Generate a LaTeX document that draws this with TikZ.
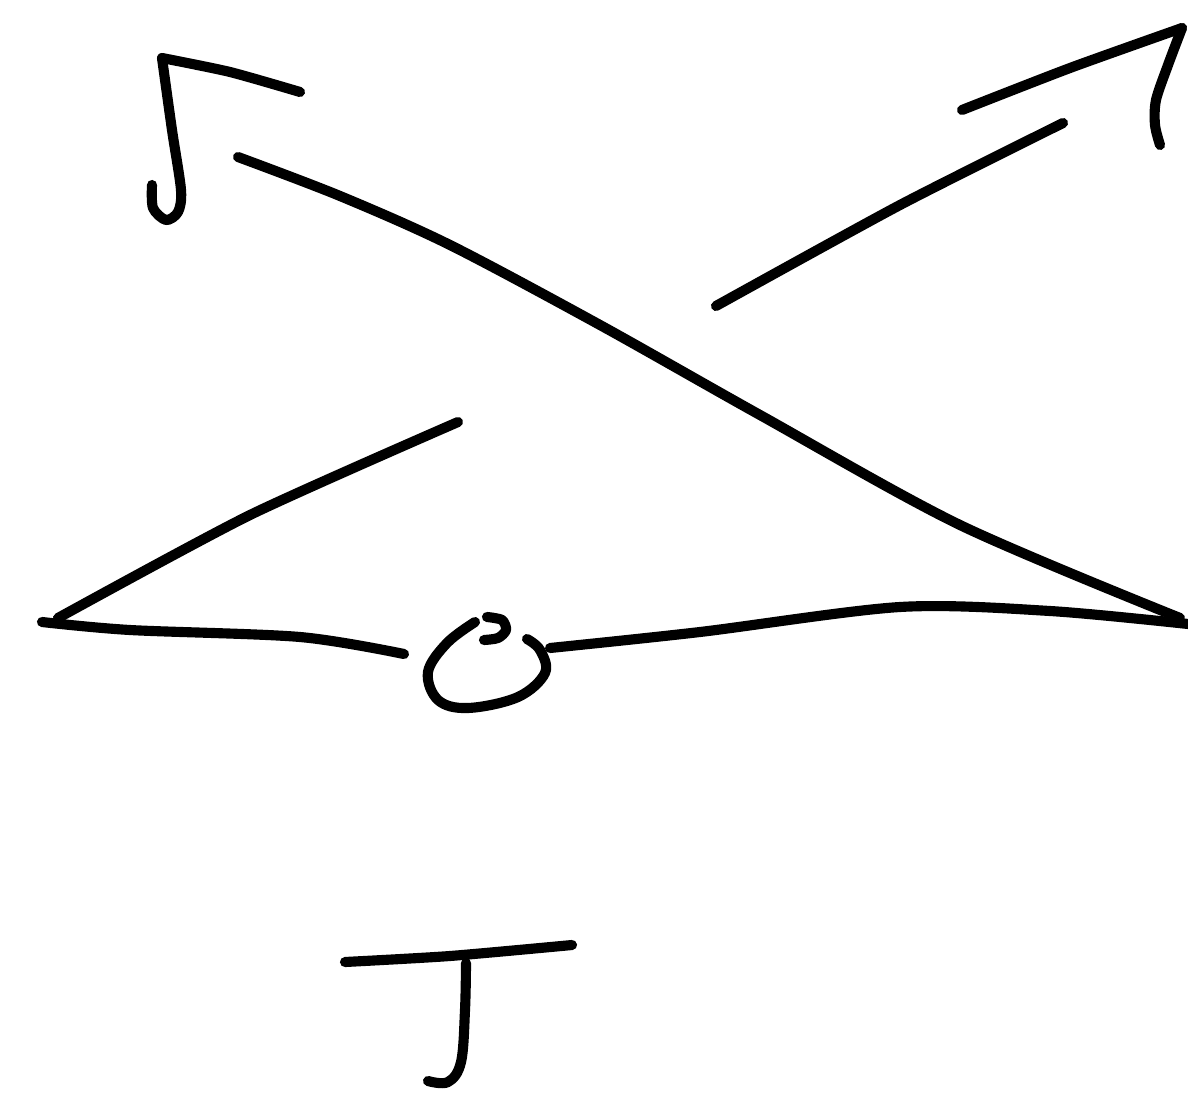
\documentclass[tikz,border=0pt]{standalone}
\begin{document}
\begin{tikzpicture}[x=0.025cm,y=-0.025cm,
  stroke/.style={line width=7.2pt,line cap=round,line join=round,black}]
\useasboundingbox (0,0) rectangle (1188,1102);
% top-left hook
\draw[stroke] plot[smooth,tension=0.4] coordinates {(300,92) (230,72) (162,58)};
\draw[stroke] plot[smooth,tension=0.5] coordinates {(162,58) (172,130) (181,190) (178,212) (166,220) (153,208) (152,185)};
% long over-strand
\draw[stroke] plot[smooth,tension=0.5] coordinates {(238,157) (340,196) (450,245) (600,325) (760,415) (960,525) (1180,618)};
% top-right hook
\draw[stroke] plot[smooth,tension=0.4] coordinates {(962,110) (1070,68) (1182,28)};
\draw[stroke] plot[smooth,tension=0.5] coordinates {(1182,28) (1168,65) (1156,100) (1155,125) (1160,145)};
% under-strand upper piece
\draw[stroke] plot[smooth,tension=0.4] coordinates {(1063,123) (900,205) (716,306)};
% lower-left strand
\draw[stroke] plot[smooth,tension=0.4] coordinates {(458,422) (250,515) (58,618)};
\draw[stroke] plot[smooth,tension=0.5] coordinates {(42,622) (130,630) (300,637) (404,654)};
% loop
\draw[stroke] plot[smooth,tension=0.6] coordinates {(475,622) (447,643) (428,672) (438,700) (468,708) (518,697) (545,673) (540,650) (527,639)};
\draw[stroke] plot[smooth,tension=0.5] coordinates {(487,617) (502,620) (506,630) (498,638) (484,640)};
% bottom strand
\draw[stroke] plot[smooth,tension=0.5] coordinates {(550,648) (700,632) (900,607) (1050,611) (1188,624)};
% bottom T/J mark
\draw[stroke] plot[smooth,tension=0.4] coordinates {(345,962) (450,956) (572,945)};
\draw[stroke] plot[smooth,tension=0.6] coordinates {(466,963) (465,1010) (461,1062) (448,1082) (428,1081)};
\end{tikzpicture}
\end{document}
